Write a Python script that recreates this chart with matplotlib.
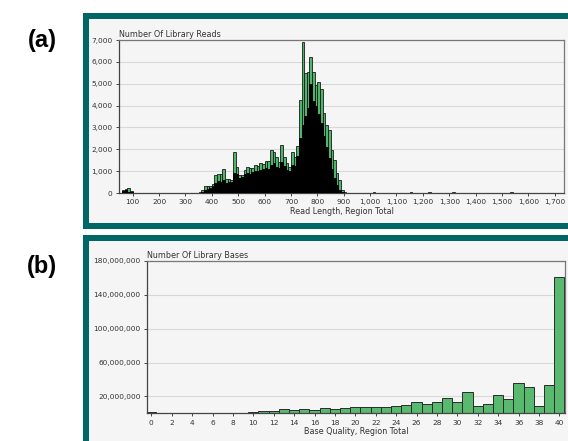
import matplotlib
matplotlib.use("Agg")
import matplotlib.pyplot as plt
from matplotlib.patches import Rectangle
from matplotlib.ticker import FuncFormatter
import numpy as np

# ---------------- data ----------------
# Panel (a): read length histogram, 10-bp bins (left edges)
read_bins = [60, 70, 80, 90, 100, 120, 150, 190, 240, 280, 320, 350,
             360, 370, 380, 390, 400, 410, 420, 430, 440, 450, 460, 470,
             480, 490, 500, 510, 520, 530, 540, 550, 560, 570, 580, 590,
             600, 610, 620, 630, 640, 650, 660, 670, 680, 690, 700, 710,
             720, 730, 740, 750, 760, 770, 780, 790, 800, 810, 820, 830,
             840, 850, 860, 870, 880, 890, 900, 950, 1010, 1080, 1150,
             1180, 1220, 1290, 1310, 1500, 1530, 1560]
reads_green = [120, 180, 230, 80, 20, 15, 12, 15, 12, 15, 12, 40,
               120, 320, 310, 300, 420, 820, 850, 880, 1080, 620, 640, 600,
               1860, 1200, 820, 830, 1050, 1170, 1130, 1150, 1280, 1250, 1360, 1330,
               1480, 1450, 1970, 1890, 1660, 1430, 2200, 1660, 1360, 1200, 1860, 1660,
               2150, 4250, 6900, 5470, 5550, 6200, 5520, 4940, 5080, 4760, 3640, 3110,
               2880, 1970, 1510, 900, 600, 140, 30, 20, 25, 20, 25,
               20, 25, 20, 25, 20, 25, 20]
reads_black = [100, 120, 60, 30, 10, 8, 6, 8, 6, 8, 6, 20,
               60, 150, 200, 220, 300, 450, 550, 500, 600, 450, 500, 520,
               900, 850, 680, 720, 850, 900, 880, 950, 1000, 1020, 1050, 1080,
               1150, 1100, 1300, 1350, 1200, 1150, 1400, 1250, 1050, 1000, 1300, 1250,
               1700, 2500, 3100, 3500, 3900, 5000, 4200, 4000, 3600, 3200, 2600, 2100,
               1600, 1100, 700, 350, 150, 40, 10, 8, 10, 8, 10,
               8, 10, 8, 10, 8, 10, 8]
read_xticks = list(range(100, 1800, 100))
read_yticks = list(range(0, 8000, 1000))

# Panel (b): base quality histogram
quality = list(range(0, 41))
bases = [1.2e6, 0, 0, 0, 0, 0, 0, 0, 0, 0,
         1.5e6, 2.4e6, 2.4e6, 5.1e6, 3.9e6, 5.1e6, 3.9e6, 5.9e6, 5.1e6, 5.9e6,
         7.1e6, 7.1e6, 7.1e6, 7.9e6, 8.7e6, 9.8e6, 13.8e6, 11.0e6, 13.0e6, 17.7e6,
         13.8e6, 24.8e6, 9.0e6, 11.4e6, 21.7e6, 17.0e6, 35.4e6, 30.7e6, 9.0e6, 33.9e6,
         161.5e6]
qual_xticks = list(range(0, 42, 2))
qual_yticks = [20e6, 60e6, 100e6, 140e6, 180e6]

# ---------------- figure ----------------
W, H = 568, 441
fig = plt.figure(figsize=(W / 100, H / 100), dpi=100)
fig.patch.set_facecolor("white")

TEAL = "#006666"
PANEL_BG = "#f5f5f5"
TXT = "#333333"


def px_rect(x0, y0, x1, y1, color, z):
    fig.patches.append(Rectangle((x0 / W, 1 - y1 / H), (x1 - x0) / W, (y1 - y0) / H,
                                 transform=fig.transFigure, facecolor=color,
                                 edgecolor="none", zorder=z))


# frames
px_rect(83, 13, 620, 229, TEAL, 0)
px_rect(89, 19, 620, 223, PANEL_BG, 0.5)
px_rect(83, 235, 620, 480, TEAL, 0)
px_rect(89, 241, 620, 480, PANEL_BG, 0.5)

fig.text(42 / W, 1 - 40 / H, "(a)", fontsize=17, fontweight="bold",
         family="Liberation Sans", ha="center", va="center")
fig.text(42 / W, 1 - 266 / H, "(b)", fontsize=17, fontweight="bold",
         family="Liberation Sans", ha="center", va="center")


def style_axes(ax):
    ax.set_facecolor(PANEL_BG)
    for s in ["left", "bottom"]:
        ax.spines[s].set_color("#444444")
        ax.spines[s].set_linewidth(0.9)
    for s in ["top", "right"]:
        ax.spines[s].set_color("#777777")
        ax.spines[s].set_linewidth(0.9)
    ax.tick_params(axis="both", labelsize=5.3, colors="#444444", labelcolor=TXT,
                   length=2.5, width=0.7, pad=2)
    ax.grid(axis="y", color="#d8d8d8", linewidth=0.8)
    ax.set_axisbelow(True)


comma = FuncFormatter(lambda v, p: f"{int(v):,}")

# ---- panel (a)
ax1 = fig.add_axes([119 / W, 1 - 193 / H, (564 - 119) / W, (193 - 40) / H])
ax1.set_zorder(2)
style_axes(ax1)
ax1.bar(read_bins, reads_green, width=10, align="edge", color="#4fb56a",
        edgecolor="#1a1a1a", linewidth=0.6, zorder=2)
ax1.bar(read_bins, reads_black, width=10, align="edge", color="black",
        edgecolor="black", linewidth=0.6, zorder=3)
ax1.set_xlim(48, 1735)
ax1.set_ylim(0, 7000)
ax1.set_xticks(read_xticks)
ax1.set_yticks(read_yticks)
ax1.xaxis.set_major_formatter(comma)
ax1.yaxis.set_major_formatter(comma)
ax1.set_xlabel("Read Length, Region Total", fontsize=5.8, color=TXT, labelpad=1)
ax1.set_title("Number Of Library Reads", fontsize=5.8, color=TXT, loc="left", pad=2)

# ---- panel (b)
ax2 = fig.add_axes([146.7 / W, 1 - 413.3 / H, (565 - 146.7) / W, (413.3 - 261) / H])
ax2.set_zorder(2)
style_axes(ax2)
ax2.bar(quality, bases, width=1.0, color="#58b96f", edgecolor="#2b2b2b",
        linewidth=0.7, zorder=2)
ax2.set_xlim(-0.45, 40.55)
ax2.set_ylim(0, 180e6)
ax2.set_xticks(qual_xticks)
ax2.set_yticks(qual_yticks)
ax2.yaxis.set_major_formatter(comma)
ax2.set_xlabel("Base Quality, Region Total", fontsize=5.8, color=TXT, labelpad=1)
ax2.set_title("Number Of Library Bases", fontsize=5.8, color=TXT, loc="left", pad=2)

fig.savefig("out.png", dpi=100, facecolor="white")
